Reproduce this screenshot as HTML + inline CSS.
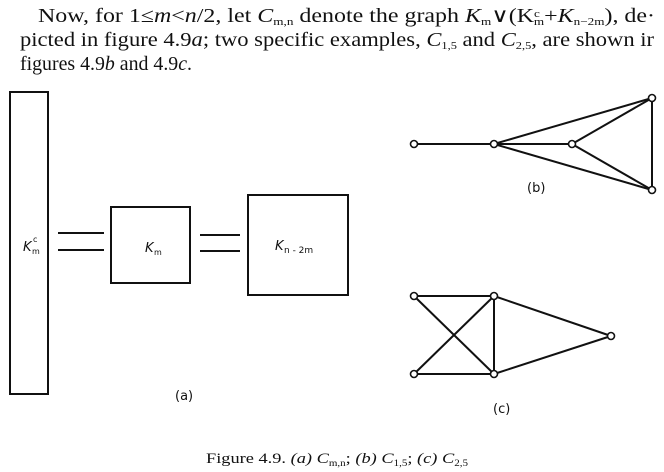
<!DOCTYPE html>
<html><head><meta charset="utf-8"><style>
body{margin:0;background:#fff;width:664px;height:472px;overflow:hidden}
</style></head><body>
<svg width="664" height="472" xmlns="http://www.w3.org/2000/svg" style="position:absolute;left:0;top:0">
<g font-family="Liberation Serif, serif" font-size="20" fill="#111">
<text x="38" y="22" textLength="617" lengthAdjust="spacingAndGlyphs">Now, for 1≤<tspan font-style="italic">m</tspan>&lt;<tspan font-style="italic">n</tspan>/2, let <tspan font-style="italic">C</tspan><tspan font-size="11" dy="3">m,n</tspan><tspan dy="-3"> denote the graph </tspan><tspan font-style="italic">K</tspan><tspan font-size="11" dy="3">m</tspan><tspan dy="-3">∨(K</tspan><tspan font-size="11" dy="-5">c</tspan><tspan font-size="11" dx="-5" dy="8">m</tspan><tspan dy="-3">+</tspan><tspan font-style="italic">K</tspan><tspan font-size="11" dy="3">n−2m</tspan><tspan dy="-3">), de·</tspan></text>
<text x="20" y="46" textLength="634" lengthAdjust="spacingAndGlyphs">picted in figure 4.9<tspan font-style="italic">a</tspan>; two specific examples, <tspan font-style="italic">C</tspan><tspan font-size="11" dy="3">1,5</tspan><tspan dy="-3"> and </tspan><tspan font-style="italic">C</tspan><tspan font-size="11" dy="3">2,5</tspan><tspan dy="-3">, are shown ir</tspan></text>
<text x="20" y="70" textLength="172" lengthAdjust="spacingAndGlyphs">figures 4.9<tspan font-style="italic">b</tspan> and 4.9<tspan font-style="italic">c</tspan>.</text>
<text x="206" y="463" font-size="15" textLength="262" lengthAdjust="spacingAndGlyphs">Figure 4.9. <tspan font-style="italic">(a) C</tspan><tspan font-size="9" dy="3">m,n</tspan><tspan dy="-3">; </tspan><tspan font-style="italic">(b) C</tspan><tspan font-size="9" dy="3">1,5</tspan><tspan dy="-3">; </tspan><tspan font-style="italic">(c) C</tspan><tspan font-size="9" dy="3">2,5</tspan></text>
</g>
<g stroke="#111" stroke-width="2" fill="none">
<rect x="10" y="92" width="38" height="302"/>
<rect x="111" y="207" width="79" height="76"/>
<rect x="248" y="195" width="100" height="100"/>
<line x1="58" y1="233" x2="104" y2="233"/><line x1="58" y1="250" x2="104" y2="250"/>
<line x1="200" y1="235" x2="240" y2="235"/><line x1="200" y1="251" x2="240" y2="251"/>
<line x1="414" y1="144" x2="494" y2="144"/><line x1="494" y1="144" x2="572" y2="144"/>
<line x1="494" y1="144" x2="652" y2="98"/><line x1="494" y1="144" x2="652" y2="190"/>
<line x1="572" y1="144" x2="652" y2="98"/><line x1="572" y1="144" x2="652" y2="190"/>
<line x1="652" y1="98" x2="652" y2="190"/>
<line x1="414" y1="296" x2="494" y2="296"/><line x1="414" y1="374" x2="494" y2="374"/>
<line x1="414" y1="296" x2="494" y2="374"/><line x1="414" y1="374" x2="494" y2="296"/>
<line x1="494" y1="296" x2="494" y2="374"/>
<line x1="494" y1="296" x2="611" y2="336"/><line x1="494" y1="374" x2="611" y2="336"/>
</g>
<g stroke="#111" stroke-width="1.6" fill="#fff">
<circle cx="414" cy="144" r="3.5"/><circle cx="494" cy="144" r="3.5"/><circle cx="572" cy="144" r="3.5"/><circle cx="652" cy="98" r="3.5"/><circle cx="652" cy="190" r="3.5"/>
<circle cx="414" cy="296" r="3.5"/><circle cx="494" cy="296" r="3.5"/><circle cx="414" cy="374" r="3.5"/><circle cx="494" cy="374" r="3.5"/><circle cx="611" cy="336" r="3.5"/>
</g>
<g font-family="DejaVu Sans, sans-serif" fill="#111">
<text x="23" y="251" font-size="13" font-style="italic">K</text><text x="32" y="254" font-size="8">m</text><text x="33" y="242" font-size="8">c</text>
<text x="145" y="252" font-size="13" font-style="italic">K</text><text x="154" y="255" font-size="8">m</text>
<text x="275" y="250" font-size="13" font-style="italic">K</text><text x="284" y="253" font-size="9">n - 2m</text>
<text x="175" y="400" font-size="13">(a)</text>
<text x="527" y="192" font-size="13">(b)</text>
<text x="493" y="413" font-size="13">(c)</text>
</g>
</svg>
</body></html>
